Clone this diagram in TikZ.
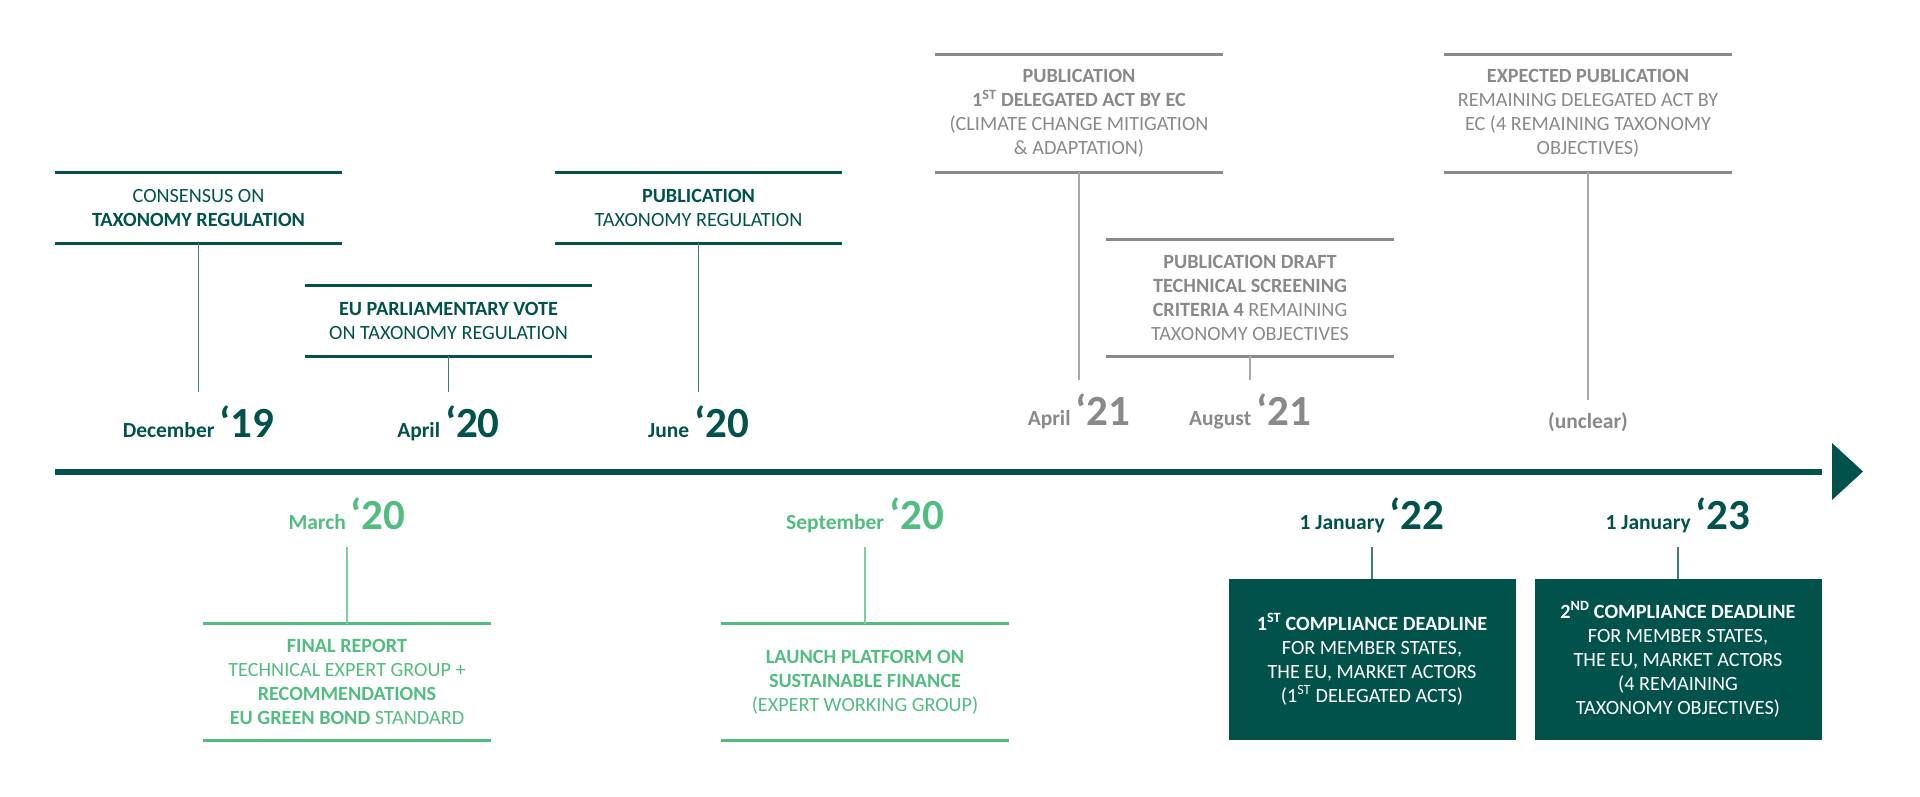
\documentclass[tikz,border=0pt]{standalone}
\usepackage{fontspec}
\setmainfont{Carlito}

\definecolor{tealdark}{RGB}{0,82,74}
\definecolor{leafgreen}{RGB}{82,189,128}
\definecolor{slategray}{RGB}{137,137,137}

\newcommand{\evtfont}{\fontsize{20.2}{24}\selectfont}
\newcommand{\stamp}[2]{{\fontsize{21.5}{24}\selectfont #1}\hspace{5pt}{\fontsize{43}{43}\selectfont ‘#2}}

\tikzset{
  evt/.style={align=center, minimum width=287pt, minimum height=#1, inner sep=0pt, font=\evtfont},
  evt/.default=70pt,
  rule/.style={line width=3.3pt},
  link/.style={line width=1.2pt},
  when/.style={anchor=base, inner xsep=0pt, inner ysep=18pt, text height=27pt, text depth=0pt, font=\bfseries},
  deadline/.style={evt=161pt, fill=tealdark, text=white},
}

\begin{document}
\begin{tikzpicture}[x=1pt, y=-1pt]
    \useasboundingbox (0,0) rectangle (1920,796);

    % timeline
    \coordinate (t0) at (55,472);
    \coordinate (t1) at (1822,472);
    \draw[line width=6pt, tealdark] (t0) -- (t1);
    \fill[tealdark] (1832,443) -- (1863,471.5) -- (1832,500) -- cycle;

    % events above the line
    \node[evt, text=tealdark] (cons) at (198.5,208) {CONSENSUS ON\\ \textbf{TAXONOMY REGULATION}};
    \node[evt, text=tealdark] (parl) at (448.5,321) {\textbf{EU PARLIAMENTARY VOTE}\\ ON TAXONOMY REGULATION};
    \node[evt, text=tealdark] (pub) at (698.5,208) {\textbf{PUBLICATION}\\ TAXONOMY REGULATION};
    \node[evt=117pt, text=slategray] (actone) at (1079,113.5) {\textbf{PUBLICATION}\\ \textbf{1\textsuperscript{ST} DELEGATED ACT BY EC}\\ (CLIMATE CHANGE MITIGATION\\ \& ADAPTATION)};
    \node[evt=116pt, text=slategray] (draft) at (1250,298) {\textbf{PUBLICATION DRAFT}\\ \textbf{TECHNICAL SCREENING}\\ \textbf{CRITERIA 4} REMAINING\\ TAXONOMY OBJECTIVES};
    \node[evt=117pt, text=slategray] (expct) at (1588,113.5) {\textbf{EXPECTED PUBLICATION}\\ REMAINING DELEGATED ACT BY\\ EC (4 REMAINING TAXONOMY\\ OBJECTIVES)};

    \foreach \n in {cons,parl,pub}
        \draw[rule, tealdark] (\n.north west) -- (\n.north east) (\n.south west) -- (\n.south east);
    \foreach \n in {actone,draft,expct}
        \draw[rule, slategray] (\n.north west) -- (\n.north east) (\n.south west) -- (\n.south east);

    \node[when, text=tealdark] (dec19) at (198.5,437) {\stamp{December}{19}};
    \node[when, text=tealdark] (apr20) at (448.5,437) {\stamp{April}{20}};
    \node[when, text=tealdark] (jun20) at (698.5,437) {\stamp{June}{20}};
    \node[when, text=slategray] (apr21) at (1079,425) {\stamp{April}{21}};
    \node[when, text=slategray] (aug21) at (1250,425) {\stamp{August}{21}};
    \node[when, text=slategray, text height=10pt] (unclear) at (1588,428) {\fontsize{21.5}{24}\selectfont(unclear)};

    \draw[link, tealdark!75] (cons) -- (dec19);
    \draw[link, tealdark!75] (parl) -- (apr20);
    \draw[link, tealdark!75] (pub) -- (jun20);
    \draw[link, slategray!75] (actone) -- (apr21);
    \draw[link, slategray!75] (draft) -- (aug21);
    \draw[link, slategray!75] (expct) -- (unclear);

    % events below the line
    \node[when, text=leafgreen] (mar20) at (347,529) {\stamp{March}{20}};
    \node[when, text=leafgreen] (sep20) at (865,529) {\stamp{September}{20}};
    \node[when, text=tealdark] (jan22) at (1372,529) {\stamp{1 January}{22}};
    \node[when, text=tealdark] (jan23) at (1678,529) {\stamp{1 January}{23}};

    \node[evt=116pt, text=leafgreen] (final) at (347,682) {\textbf{FINAL REPORT}\\ TECHNICAL EXPERT GROUP +\\ \textbf{RECOMMENDATIONS}\\ \textbf{EU GREEN BOND} STANDARD};
    \node[evt=116pt, text=leafgreen] (launch) at (865,682) {\textbf{LAUNCH PLATFORM ON}\\ \textbf{SUSTAINABLE FINANCE}\\ (EXPERT WORKING GROUP)};
    \node[deadline] (dlone) at (1372,659.5) {\textbf{1\textsuperscript{ST} COMPLIANCE DEADLINE}\\ FOR MEMBER STATES,\\ THE EU, MARKET ACTORS\\ (1\textsuperscript{ST} DELEGATED ACTS)};
    \node[deadline] (dltwo) at (1678,659.5) {\textbf{2\textsuperscript{ND} COMPLIANCE DEADLINE}\\ FOR MEMBER STATES,\\ THE EU, MARKET ACTORS\\ (4 REMAINING\\ TAXONOMY OBJECTIVES)};

    \foreach \n in {final,launch}
        \draw[rule, leafgreen] (\n.north west) -- (\n.north east) (\n.south west) -- (\n.south east);

    \draw[link, leafgreen!75] (mar20) -- (final);
    \draw[link, leafgreen!75] (sep20) -- (launch);
    \draw[link, tealdark!75] (jan22) -- (dlone);
    \draw[link, tealdark!75] (jan23) -- (dltwo);
\end{tikzpicture}
\end{document}
